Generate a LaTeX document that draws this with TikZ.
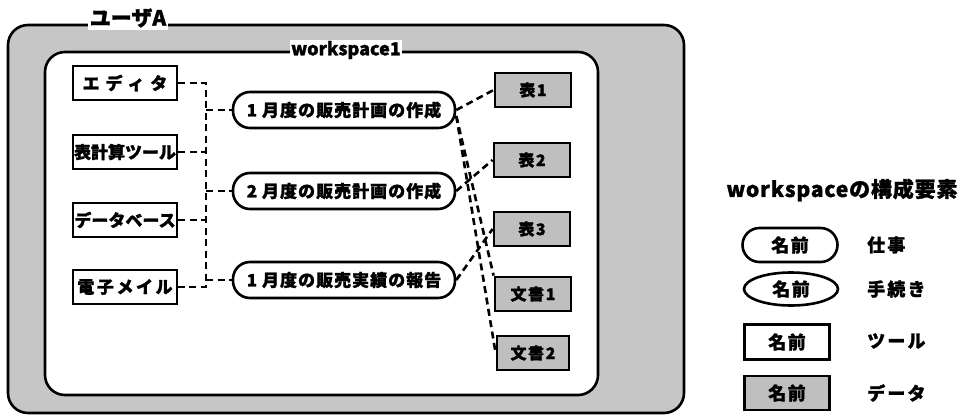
\documentclass[tikz,border=0pt]{standalone}
\usepackage{fontspec}
\setmainfont{Noto Sans CJK JP}[BoldFeatures={FakeBold=1.2}]
\usetikzlibrary{shapes.geometric}
\newcommand{\fs}[1]{\bfseries\fontsize{#1}{#1}\selectfont}
\begin{document}
\begin{tikzpicture}[x=1pt,y=-1pt,
  frame/.style={draw, line width=2.6pt, rounded corners=20pt, inner sep=0pt},
  tool/.style={draw, line width=2.6pt, fill=white, minimum width=104pt, minimum height=34pt, inner sep=0pt, font=\fs{17}},
  job/.style={draw, line width=2.6pt, fill=white, rounded corners=17pt, minimum width=222pt, minimum height=36pt, inner sep=0pt, font=\fs{17}\addfontfeature{LetterSpace=6}},
  proc/.style={draw, ellipse, line width=2.6pt, fill=white, minimum width=94pt, minimum height=33pt, inner sep=0pt, font=\fs{18}},
  datum/.style={draw, line width=2.8pt, fill=gray!50, minimum width=76pt, minimum height=34pt, inner sep=0pt, font=\fs{16}\addfontfeature{LetterSpace=10}},
  legtext/.style={anchor=west, inner sep=0pt, font=\fs{18}\addfontfeature{LetterSpace=12}},
  link/.style={line width=2.6pt, dash pattern=on 7pt off 4.5pt}]
\useasboundingbox (0,0) rectangle (966,415);
% frames
\node[frame, fill=gray!45, minimum width=676pt, minimum height=388pt] (user) at (346,219) {};
\node[frame, fill=white, minimum width=553pt, minimum height=343pt] (ws) at (321.5,223.5) {};
\node[fill=white, inner sep=2pt, font=\fs{21}] (userlbl) at (128,18) {ユーザA};
\node[fill=white, inner sep=1pt, font=\fs{18}] (wslbl) at (346,50) {workspace1};
% tools
\node[tool, font=\fs{17}\addfontfeature{LetterSpace=35}] (t1) at (125,83) {エディタ};
\node[tool] (t2) at (125,152) {表計算ツール};
\node[tool] (t3) at (125,220) {データベース};
\node[tool, font=\fs{17}\addfontfeature{LetterSpace=15}] (t4) at (125,287) {電子メイル};
% jobs
\node[job] (j1) at (344,110) {1 月度の販売計画の作成};
\node[job] (j2) at (344,191) {2 月度の販売計画の作成};
\node[job] (j3) at (344,280) {1 月度の販売実績の報告};
% data
\node[datum] (d1) at (533,90) {表1};
\node[datum] (d2) at (532,160) {表2};
\node[datum] (d3) at (532,229) {表3};
\node[datum] (d4) at (533,294) {文書1};
\node[datum, minimum width=72pt] (d5) at (533,353) {文書2};
% bus
\coordinate (bus) at (206,0);
\draw[link] (t1.east) -- (t1.east -| bus) -- (t4.east -| bus) -- (t4.east);
\draw[link] (t2.east) -- (t2.east -| bus);
\draw[link] (t3.east) -- (t3.east -| bus);
\draw[link] (j1.west -| bus) -- (j1.west);
\draw[link] (j2.west -| bus) -- (j2.west);
\draw[link] (j3.west -| bus) -- (j3.west);
% job-data links
\draw[link] (j1.east) -- (d1.west);
\draw[link] (j2.east) -- (d2.west);
\draw[link] (j3.east) -- (d3.west);
\draw[link] ([yshift=-6pt]j1.east) -- (d4.north west);
\draw[link] ([yshift=-6pt]j1.east) -- (d5.west);
% legend
\node[font=\fs{21}\addfontfeature{LetterSpace=4}] (legtitle) at (842,190) {workspaceの構成要素};
\node[job, minimum width=95pt, minimum height=34pt, font=\fs{18}\addfontfeature{LetterSpace=8}] (lj) at (790,245) {名前};
\node[proc, font=\fs{18}\addfontfeature{LetterSpace=8}] (lp) at (791,289) {名前};
\node[tool, minimum width=85pt, minimum height=35pt, font=\fs{18}\addfontfeature{LetterSpace=8}] (lt) at (787,342) {名前};
\node[datum, minimum width=85pt, font=\fs{18}\addfontfeature{LetterSpace=8}] (ld) at (787,393) {名前};
\node[legtext] (ljt) at (867,245) {仕事};
\node[legtext] (lpt) at (867,289) {手続き};
\node[legtext] (ltt) at (867,341) {ツール};
\node[legtext] (ldt) at (867,393) {データ};
\end{tikzpicture}
\end{document}
